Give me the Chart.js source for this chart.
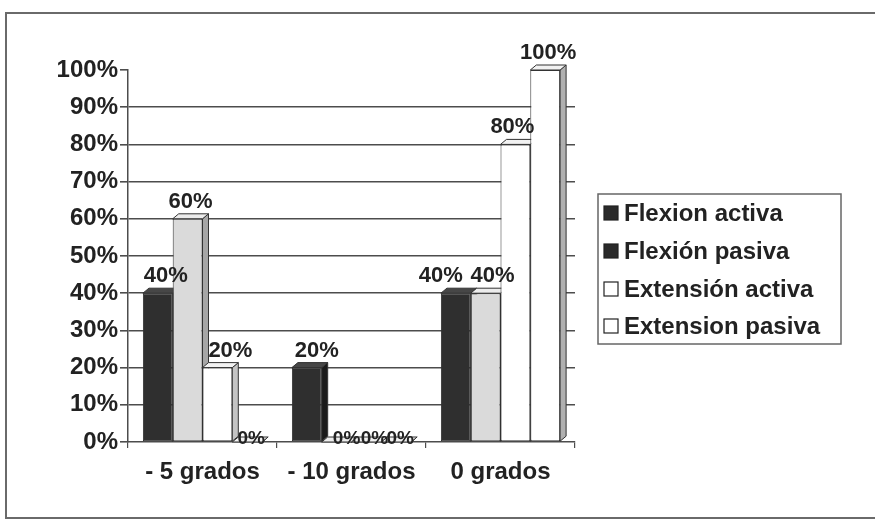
<!DOCTYPE html>
<html>
<head>
<meta charset="utf-8">
<script src="https://cdn.jsdelivr.net/npm/chart.js@4/dist/chart.umd.min.js"></script>
<style>
  html, body { margin: 0; padding: 0; background: #ffffff; }
  canvas { display: block; }
</style>
</head>
<body>
<canvas id="chart" width="875" height="523"></canvas>
<script>
// Categories (x axis) and the four series, in percent
const categories = ['- 5 grados', '- 10 grados', '0 grados'];
const flexionActiva = [40, 20, 40];
const flexionPasiva = [60, 0, 40];
const extensionActiva = [20, 0, 80];
const extensionPasiva = [0, 0, 100];
const seriesNames = ['Flexion activa', 'Flexión pasiva', 'Extensión activa', 'Extension pasiva'];
const yTickValues = [0, 10, 20, 30, 40, 50, 60, 70, 80, 90, 100];

const FONT = '"Liberation Sans", Arial, sans-serif';
const INK = '#222222';
const LINE = '#4d4d4d';

// front / side / top colours of each series' boxes
const faceColors = [
  { front: '#2f2f2f', side: '#1a1a1a', top: '#474747' },
  { front: '#dadada', side: '#a6a6a6', top: '#ececec' },
  { front: '#ffffff', side: '#c4c4c4', top: '#f2f2f2' },
  { front: '#ffffff', side: '#b0b0b0', top: '#f2f2f2' }
];
// swatch colours shown in the legend box
const legendSwatches = ['#2a2a2a', '#2a2a2a', '#ffffff', '#ffffff'];

const seriesValues = [flexionActiva, flexionPasiva, extensionActiva, extensionPasiva];

const datasets = seriesValues.map((vals, i) => ({
  label: seriesNames[i],
  data: vals,
  backgroundColor: faceColors[i].front,
  borderColor: '#333333',
  borderWidth: 1,
  borderSkipped: false,
  categoryPercentage: 0.8,
  barPercentage: 1.0
}));

// box depth of the pseudo-3D bars
const DX = 6, DY = 5;

// side and top faces, painted before the fronts so neighbours overlap naturally
const boxFaces = {
  id: 'boxFaces',
  beforeDatasetsDraw(chart) {
    const ctx = chart.ctx;
    ctx.save();
    ctx.lineWidth = 1;
    ctx.strokeStyle = '#333333';
    chart.data.datasets.forEach((ds, di) => {
      const meta = chart.getDatasetMeta(di);
      meta.data.forEach(bar => {
        const p = bar.getProps(['x', 'y', 'base', 'width'], true);
        const l = p.x - p.width / 2, r = p.x + p.width / 2;
        const top = Math.min(p.y, p.base), bot = p.base;
        // side face
        ctx.beginPath();
        ctx.moveTo(r, top);
        ctx.lineTo(r + DX, top - DY);
        ctx.lineTo(r + DX, bot - DY);
        ctx.lineTo(r, bot);
        ctx.closePath();
        ctx.fillStyle = faceColors[di].side;
        ctx.fill();
        ctx.stroke();
        // top face
        ctx.beginPath();
        ctx.moveTo(l, top);
        ctx.lineTo(l + DX, top - DY);
        ctx.lineTo(r + DX, top - DY);
        ctx.lineTo(r, top);
        ctx.closePath();
        ctx.fillStyle = faceColors[di].top;
        ctx.fill();
        ctx.stroke();
      });
    });
    ctx.restore();
  }
};

// horizontal nudges of the value labels [series][category]
const labelShift = [
  [8, 10, -15],
  [3, 10, 7],
  [13, 8, -3],
  [4, 4, 3]
];

const valueLabels = {
  id: 'valueLabels',
  afterDatasetsDraw(chart) {
    const ctx = chart.ctx;
    ctx.save();
    ctx.fillStyle = INK;
    ctx.textAlign = 'center';
    ctx.textBaseline = 'alphabetic';
    chart.data.datasets.forEach((ds, di) => {
      const meta = chart.getDatasetMeta(di);
      meta.data.forEach((bar, i) => {
        const v = ds.data[i];
        const p = bar.getProps(['x', 'y', 'base'], true);
        const x = p.x + labelShift[di][i];
        if (v === 0) {
          ctx.font = 'bold 19px ' + FONT;
          ctx.fillText(v + '%', x, p.base + 2);
        } else {
          ctx.font = 'bold 22px ' + FONT;
          ctx.fillText(v + '%', x, p.y - 11);
        }
      });
    });
    ctx.restore();
  }
};

// outer frame and the boxed legend
const frameAndLegend = {
  id: 'frameAndLegend',
  afterDraw(chart) {
    const ctx = chart.ctx;
    ctx.save();
    ctx.strokeStyle = '#6a6a6a';
    ctx.lineWidth = 2;
    ctx.strokeRect(6, 13, 880, 505);

    ctx.strokeStyle = '#666666';
    ctx.lineWidth = 1.5;
    ctx.strokeRect(598, 194, 243, 150);

    ctx.font = 'bold 24px ' + FONT;
    ctx.textBaseline = 'middle';
    ctx.textAlign = 'left';
    const rows = [213, 251, 289, 326];
    seriesNames.forEach((name, i) => {
      const y = rows[i];
      ctx.fillStyle = legendSwatches[i];
      ctx.fillRect(604, y - 7, 14, 14);
      ctx.strokeStyle = '#222222';
      ctx.lineWidth = 1.2;
      ctx.strokeRect(604, y - 7, 14, 14);
      ctx.fillStyle = INK;
      ctx.fillText(name, 624, y + 1);
    });
    ctx.restore();
  }
};

new Chart(document.getElementById('chart'), {
  type: 'bar',
  data: { labels: categories, datasets },
  options: {
    responsive: false,
    animation: false,
    layout: { padding: { left: 0, top: 70, right: 300, bottom: 0 } },
    plugins: {
      legend: { display: false },
      tooltip: { enabled: false }
    },
    scales: {
      x: {
        offset: true,
        afterFit(scale) { scale.height = 81; },
        grid: {
          drawOnChartArea: false,
          offset: true,
          tickLength: 6,
          color: LINE,
          lineWidth: 1.2
        },
        border: { color: LINE, width: 1.5 },
        ticks: {
          color: INK,
          padding: 10,
          font: { family: FONT, size: 24, weight: 'bold' }
        }
      },
      y: {
        min: 0,
        max: 100,
        afterFit(scale) { scale.width = 128; },
        afterBuildTicks(scale) {
          scale.ticks = yTickValues.map(v => ({ value: v }));
        },
        grid: {
          color: ctx => (ctx.tick && (ctx.tick.value === 100 || ctx.tick.value === 0)) ? 'rgba(0,0,0,0)' : LINE,
          tickColor: LINE,
          tickLength: 8,
          lineWidth: 1.6
        },
        border: { color: LINE, width: 1.5 },
        ticks: {
          color: INK,
          padding: 2,
          font: { family: FONT, size: 24, weight: 'bold' },
          callback: v => v + '%'
        }
      }
    }
  },
  plugins: [boxFaces, valueLabels, frameAndLegend]
});
</script>
</body>
</html>
